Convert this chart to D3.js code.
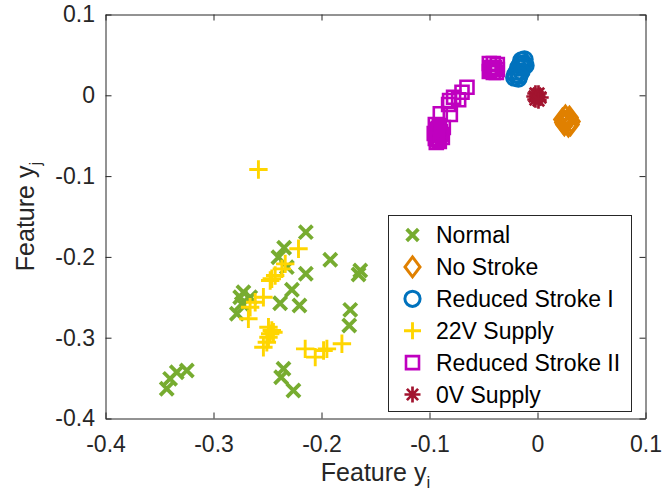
<!DOCTYPE html>
<html>
<head>
<meta charset="utf-8">
<script src="https://cdn.jsdelivr.net/npm/d3@7/dist/d3.min.js"></script>
<style>
  body { margin: 0; background: #fff; }
  svg { display: block; font-family: "Liberation Sans", Arial, Helvetica, sans-serif; }
</style>
</head>
<body>
<svg id="chart" width="671" height="497"></svg>
<script>
// axis ticks
const xTicks = [-0.4, -0.3, -0.2, -0.1, 0, 0.1];
const xTickLabels = ["-0.4", "-0.3", "-0.2", "-0.1", "0", "0.1"];
const yTicks = [-0.4, -0.3, -0.2, -0.1, 0, 0.1];
const yTickLabels = ["-0.4", "-0.3", "-0.2", "-0.1", "0", "0.1"];

// points, [feature yi, feature yj]
const normal = [
  [-0.2145, -0.1694], [-0.2346, -0.1887], [-0.1919, -0.2036], [-0.1641, -0.2168],
  [-0.1657, -0.2218], [-0.2145, -0.2209], [-0.2399, -0.2004], [-0.2321, -0.2127],
  [-0.2274, -0.2407], [-0.2383, -0.2573], [-0.2204, -0.2601], [-0.2723, -0.2437],
  [-0.2753, -0.2499], [-0.2738, -0.2580], [-0.2784, -0.2704], [-0.2660, -0.2499],
  [-0.1734, -0.2655], [-0.1743, -0.2849], [-0.2352, -0.3385], [-0.2374, -0.3489],
  [-0.2260, -0.3653], [-0.3247, -0.3406], [-0.3340, -0.3427], [-0.3402, -0.3509],
  [-0.3433, -0.3632]
];
const noStroke = [
  [0.0231, -0.0300], [0.0259, -0.0262], [0.0296, -0.0275], [0.0314, -0.0324],
  [0.0286, -0.0374], [0.0249, -0.0361], [0.0268, -0.0324], [0.0240, -0.0337],
  [0.0305, -0.0361]
];
const reducedStroke1 = [
  [-0.0121, 0.0443], [-0.0149, 0.0431], [-0.0130, 0.0394], [-0.0158, 0.0381],
  [-0.0140, 0.0344], [-0.0177, 0.0344], [-0.0186, 0.0295], [-0.0149, 0.0295],
  [-0.0205, 0.0257], [-0.0168, 0.0245], [-0.0214, 0.0220], [-0.0177, 0.0208],
  [-0.0112, 0.0369]
];
const supply22V = [
  [-0.2584, -0.0918], [-0.2213, -0.1900], [-0.2336, -0.2086], [-0.2367, -0.2148],
  [-0.2429, -0.2230], [-0.2475, -0.2292], [-0.2460, -0.2270], [-0.2538, -0.2499],
  [-0.2614, -0.2561], [-0.2661, -0.2623], [-0.2677, -0.2766], [-0.2491, -0.2870],
  [-0.2460, -0.2910], [-0.2475, -0.2952], [-0.2445, -0.2932], [-0.2491, -0.2994],
  [-0.2538, -0.3118], [-0.2506, -0.3056], [-0.2151, -0.3138], [-0.1981, -0.3158],
  [-0.2058, -0.3241], [-0.1811, -0.3075], [-0.1950, -0.3138]
];
const reducedStroke2 = [
  [-0.0446, 0.0394], [-0.0409, 0.0394], [-0.0372, 0.0381], [-0.0436, 0.0344],
  [-0.0400, 0.0344], [-0.0372, 0.0319], [-0.0446, 0.0295], [-0.0409, 0.0282],
  [-0.0381, 0.0282], [-0.0428, 0.0319],
  [-0.0653, 0.0100], [-0.0699, 0.0038], [-0.0777, -0.0024], [-0.0730, -0.0056],
  [-0.0814, -0.0064], [-0.0823, -0.0114], [-0.0900, -0.0229], [-0.0807, -0.0238],
  [-0.0946, -0.0361], [-0.0909, -0.0374], [-0.0872, -0.0399], [-0.0937, -0.0423],
  [-0.0900, -0.0448], [-0.0956, -0.0473], [-0.0918, -0.0498], [-0.0881, -0.0522],
  [-0.0946, -0.0535], [-0.0909, -0.0572], [-0.0937, -0.0584], [-0.0918, -0.0410],
  [-0.0928, -0.0460], [-0.0890, -0.0485], [-0.0928, -0.0548]
];
const supply0V = [
  [-0.0019, 0.0022], [0.0009, 0.0022], [-0.0028, -0.0015], [0.0000, -0.0015],
  [0.0028, -0.0027], [-0.0019, -0.0052], [0.0009, -0.0064]
];

const seriesNames = ["Normal", "No Stroke", "Reduced Stroke I", "22V Supply", "Reduced Stroke II", "0V Supply"];
const seriesData = [normal, noStroke, reducedStroke1, supply22V, reducedStroke2, supply0V];

// marker style per series
const styles = [
  { shape: "x", color: "#77AC30", size: 6.6, width: 3.8, legendSize: 5.8 },
  { shape: "diamond", color: "#E08000", size: 7.8, width: 3, legendSize: 7.5 },
  { shape: "circle", color: "#0072BD", size: 7.8, width: 3, legendSize: 7.6 },
  { shape: "plus", color: "#FFD500", size: 9.2, width: 2.9, legendSize: 8.5 },
  { shape: "square", color: "#BF00BF", size: 6.5, width: 2.6, legendSize: 6.5 },
  { shape: "asterisk", color: "#A2142F", size: 8.2, width: 2.7, legendSize: 8 }
];

const markerPath = {
  x: s => `M${-s},${-s}L${s},${s}M${-s},${s}L${s},${-s}`,
  plus: s => `M${-s},0L${s},0M0,${-s}L0,${s}`,
  square: s => `M${-s},${-s}H${s}V${s}H${-s}Z`,
  circle: s => `M${s},0A${s},${s} 0 1 1 ${-s},0A${s},${s} 0 1 1 ${s},0Z`,
  diamond: s => `M0,${-s * 1.33}L${s},0L0,${s * 1.33}L${-s},0Z`,
  asterisk: s => {
    const d = s * 0.7;
    return `M${-s},0L${s},0M0,${-s}L0,${s}M${-d},${-d}L${d},${d}M${-d},${d}L${d},${-d}`;
  }
};

const svg = d3.select("#chart");
const axisColor = "#262626";
const plot = { left: 105.5, right: 645.5, top: 14.5, bottom: 418.5 };

const x = d3.scaleLinear().domain([-0.4, 0.1]).range([plot.left, plot.right]);
const y = d3.scaleLinear().domain([-0.4, 0.1]).range([plot.bottom, plot.top]);

// points
const marks = svg.append("g").attr("class", "marks");
seriesData.forEach((data, i) => {
  const st = styles[i];
  marks.append("g")
    .attr("class", "series")
    .selectAll("path")
    .data(data)
    .join("path")
    .attr("d", markerPath[st.shape](st.size))
    .attr("transform", d => `translate(${x(d[0])},${y(d[1])})`)
    .attr("fill", "none")
    .attr("stroke", st.color)
    .attr("stroke-width", st.width)
    .attr("stroke-linejoin", "miter");
});

// axes, ticks pointing inward on all four sides
const tickLen = 6;
function styleAxis(g) {
  g.select(".domain").attr("stroke", axisColor).attr("stroke-width", 1);
  g.selectAll(".tick line").attr("stroke", axisColor).attr("stroke-width", 1);
  g.selectAll(".tick text").attr("fill", axisColor).attr("font-size", 23)
    .attr("font-family", "Liberation Sans, Arial, Helvetica, sans-serif");
}

svg.append("g")
  .attr("transform", `translate(0,${plot.bottom})`)
  .call(d3.axisBottom(x).tickValues(xTicks).tickFormat((d, i) => xTickLabels[i])
    .tickSizeInner(-tickLen).tickSizeOuter(0).tickPadding(17))
  .call(styleAxis);

svg.append("g")
  .attr("transform", `translate(${plot.left},0)`)
  .call(d3.axisLeft(y).tickValues(yTicks).tickFormat((d, i) => yTickLabels[i])
    .tickSizeInner(-tickLen).tickSizeOuter(0).tickPadding(10.5))
  .call(styleAxis);

svg.append("g")
  .attr("transform", `translate(0,${plot.top})`)
  .call(d3.axisTop(x).tickValues(xTicks).tickFormat("")
    .tickSizeInner(-tickLen).tickSizeOuter(0))
  .call(styleAxis);

svg.append("g")
  .attr("transform", `translate(${plot.right},0)`)
  .call(d3.axisRight(y).tickValues(yTicks).tickFormat("")
    .tickSizeInner(-tickLen).tickSizeOuter(0))
  .call(styleAxis);

// axis labels
const xLabel = svg.append("text")
  .attr("x", (plot.left + plot.right) / 2)
  .attr("y", 481)
  .attr("text-anchor", "middle")
  .attr("font-size", 25)
  .attr("fill", axisColor);
xLabel.append("tspan").text("Feature y");
xLabel.append("tspan").attr("font-size", 17).attr("dy", 7).text("i");

const yLabel = svg.append("text")
  .attr("transform", `translate(34,${(plot.top + plot.bottom) / 2}) rotate(-90)`)
  .attr("text-anchor", "middle")
  .attr("font-size", 25)
  .attr("fill", axisColor);
yLabel.append("tspan").text("Feature y");
yLabel.append("tspan").attr("font-size", 17).attr("dy", 7).text("j");

// legend
const legend = svg.append("g").attr("transform", "translate(388.5,215.5)");
legend.append("rect")
  .attr("width", 243)
  .attr("height", 196)
  .attr("fill", "#fff")
  .attr("stroke", axisColor)
  .attr("stroke-width", 1);

const rowY = d3.scalePoint().domain(seriesNames).range([19.5, 179]);
const rows = legend.selectAll("g.row")
  .data(seriesNames)
  .join("g")
  .attr("class", "row")
  .attr("transform", d => `translate(0,${rowY(d)})`);

rows.append("path")
  .attr("transform", "translate(24,0)")
  .attr("d", (d, i) => markerPath[styles[i].shape](styles[i].legendSize))
  .attr("fill", "none")
  .attr("stroke", (d, i) => styles[i].color)
  .attr("stroke-width", (d, i) => styles[i].width);

rows.append("text")
  .attr("x", 47.5)
  .attr("dy", "0.35em")
  .attr("font-size", 23)
  .attr("fill", "#000")
  .text(d => d);
</script>
</body>
</html>
